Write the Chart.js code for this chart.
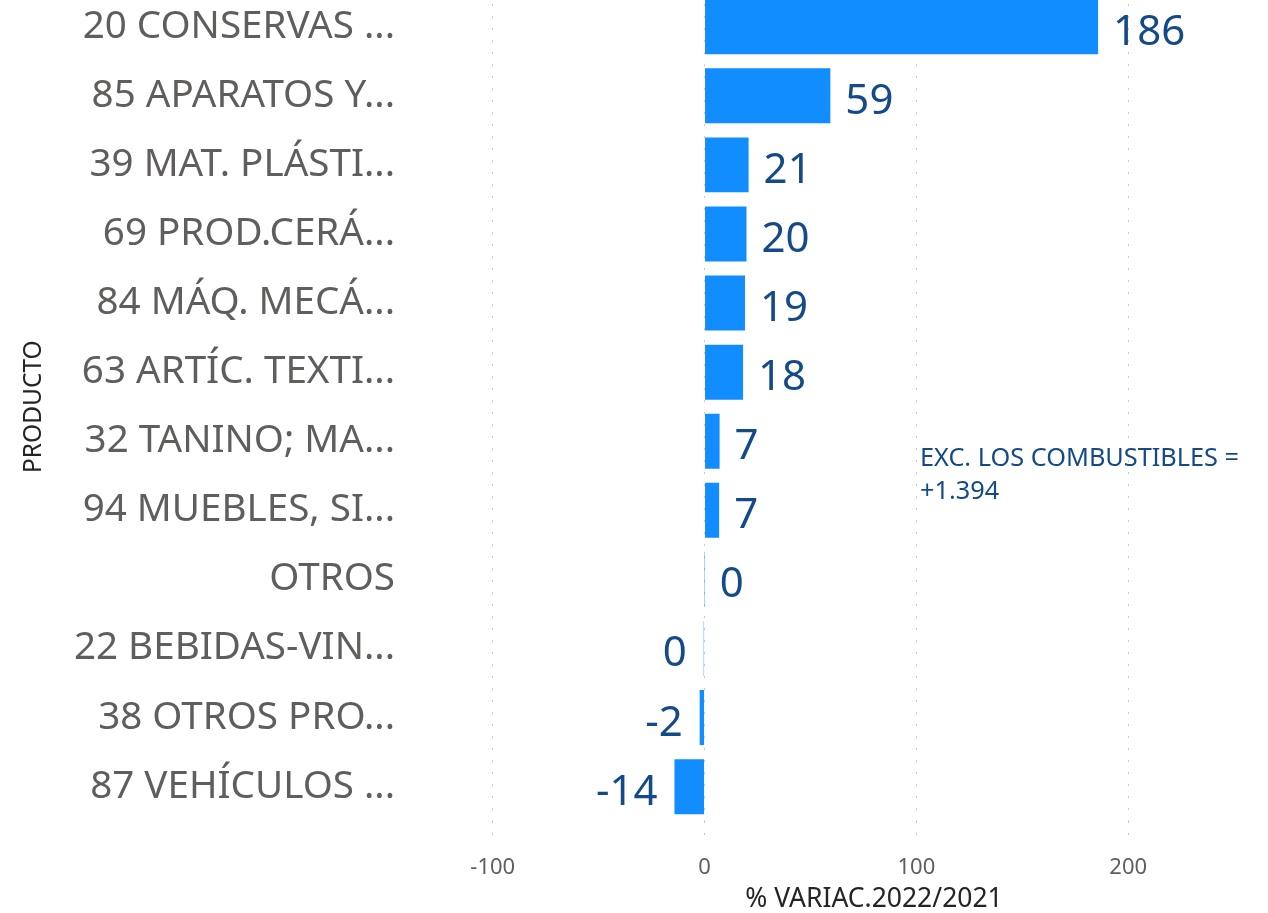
<!DOCTYPE html>
<html>
<head>
<meta charset="utf-8">
<script src="https://cdn.jsdelivr.net/npm/chart.js@4.4.0/dist/chart.umd.min.js"></script>
<style>
  html, body { margin: 0; padding: 0; background: #fff; overflow: hidden; }
  #wrap { position: absolute; left: 0; top: -36.5px; width: 1340px; height: 955.8px; }
  #note { position: absolute; left: 920px; top: 440px; width: 348px; font-family: "Noto Sans", sans-serif;
          font-size: 25.3px; line-height: 33px; color: #134A87; }
</style>
</head>
<body>
<div id="wrap"><canvas id="mycanvas"></canvas></div>
<div id="note">EXC. LOS COMBUSTIBLES =<br>+1.394</div>
<script>
var productos = ['20 CONSERVAS ...', '85 APARATOS Y...', '39 MAT. PLÁSTI...', '69 PROD.CERÁ...',
                 '84 MÁQ. MECÁ...', '63 ARTÍC. TEXTI...', '32 TANINO; MA...', '94 MUEBLES, SI...',
                 'OTROS', '22 BEBIDAS-VIN...', '38 OTROS PRO...', '87 VEHÍCULOS ...'];
var variacion = [185.8, 59.4, 20.8, 19.8, 19.1, 18.2, 7.1, 6.9, 0.05, -0.4, -2.3, -14.2];
var xTicks = [-100, 0, 100, 200];

var FONT = '"Noto Sans", sans-serif';

var etiquetas = {
    id: 'etiquetas',
    afterDatasetsDraw: function(chart) {
        var ctx = chart.ctx;
        var meta = chart.getDatasetMeta(0);
        ctx.save();
        ctx.font = '42px ' + FONT;
        ctx.fillStyle = '#134A87';
        ctx.textBaseline = 'middle';
        meta.data.forEach(function(bar, i) {
            var v = variacion[i];
            var txt = String(Math.round(v));
            if (v >= 0) {
                ctx.textAlign = 'left';
                ctx.fillText(txt, bar.x + 15, bar.y + 6);
            } else {
                ctx.textAlign = 'right';
                ctx.fillText(txt, bar.x - 17, bar.y + 6);
            }
        });
        ctx.restore();
    }
};

var ctx = document.getElementById('mycanvas');
var chart = new Chart(ctx, {
    type: 'bar',
    data: {
        labels: productos,
        datasets: [{
            label: '% VARIAC.2022/2021',
            data: variacion,
            backgroundColor: '#118DFF',
            borderWidth: 0,
            barPercentage: 1,
            categoryPercentage: 0.796
        }]
    },
    plugins: [etiquetas],
    options: {
        indexAxis: 'y',
        responsive: true,
        maintainAspectRatio: false,
        animation: false,
        layout: { padding: 0 },
        plugins: {
            legend: { display: false },
            tooltip: { enabled: false }
        },
        scales: {
            x: {
                min: -140,
                max: 300,
                afterBuildTicks: function(scale) {
                    scale.ticks = xTicks.map(function(v) { return { value: v }; });
                },
                grid: {
                    color: '#C8C6C4',
                    tickLength: 22,
                    tickBorderDash: [2, 10],
                    drawTicks: true
                },
                border: { display: false, dash: [2, 10] },
                ticks: {
                    color: '#605E5C',
                    font: { family: FONT, size: 22 },
                    padding: 11
                },
                title: {
                    display: true,
                    text: '% VARIAC.2022/2021',
                    color: '#252423',
                    font: { family: FONT, size: 26.5 },
                    padding: { top: -7.6, bottom: 4 }
                }
            },
            y: {
                afterFit: function(scale) { scale.width = 408; },
                grid: { display: false },
                border: { display: false },
                ticks: {
                    color: '#605E5C',
                    font: { family: FONT, size: 38.6 },
                    padding: 5
                },
                title: {
                    display: true,
                    text: 'PRODUCTO',
                    color: '#252423',
                    font: { family: FONT, size: 24.5 },
                    padding: { top: 19, bottom: 0 }
                }
            }
        }
    }
});
</script>
</body>
</html>
